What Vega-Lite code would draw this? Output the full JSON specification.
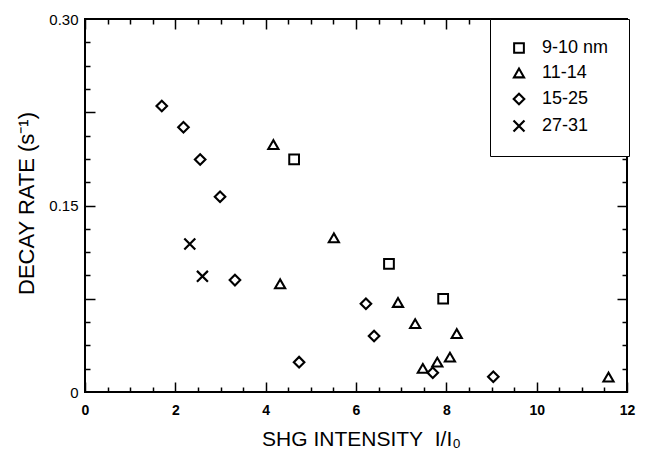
{
  "$schema": "https://vega.github.io/schema/vega-lite/v6.json",
  "width": 542,
  "height": 373,
  "autosize": "none",
  "padding": {"left": 85, "top": 19, "right": 22, "bottom": 57},
  "background": "white",
  "config": {
    "view": {"stroke": "black", "strokeWidth": 2},
    "axis": {
      "domain": false,
      "grid": false,
      "labelFont": "Liberation Sans",
      "labelFontSize": 14,
      "labelColor": "black",
      "titleFont": "Liberation Sans",
      "titleColor": "black",
      "titleFontWeight": "normal",
      "tickColor": "black",
      "tickWidth": 1.5,
      "labelOverlap": false,
      "labelFlush": false
    },
    "legend": {
      "labelFont": "Liberation Sans",
      "labelColor": "black"
    }
  },
  "data": {
    "values": [
      {"x": 4.63, "y": 0.187, "size": "9-10 nm"},
      {"x": 6.73, "y": 0.103, "size": "9-10 nm"},
      {"x": 7.93, "y": 0.075, "size": "9-10 nm"},
      {"x": 4.17, "y": 0.199, "size": "11-14"},
      {"x": 5.51, "y": 0.124, "size": "11-14"},
      {"x": 4.32, "y": 0.087, "size": "11-14"},
      {"x": 6.93, "y": 0.072, "size": "11-14"},
      {"x": 7.31, "y": 0.055, "size": "11-14"},
      {"x": 8.23, "y": 0.047, "size": "11-14"},
      {"x": 8.08, "y": 0.028, "size": "11-14"},
      {"x": 7.80, "y": 0.024, "size": "11-14"},
      {"x": 7.48, "y": 0.019, "size": "11-14"},
      {"x": 11.59, "y": 0.012, "size": "11-14"},
      {"x": 1.70, "y": 0.230, "size": "15-25"},
      {"x": 2.18, "y": 0.213, "size": "15-25"},
      {"x": 2.55, "y": 0.187, "size": "15-25"},
      {"x": 2.99, "y": 0.157, "size": "15-25"},
      {"x": 3.32, "y": 0.090, "size": "15-25"},
      {"x": 4.74, "y": 0.024, "size": "15-25"},
      {"x": 6.22, "y": 0.071, "size": "15-25"},
      {"x": 6.40, "y": 0.045, "size": "15-25"},
      {"x": 7.70, "y": 0.0155, "size": "15-25"},
      {"x": 9.04, "y": 0.0123, "size": "15-25"},
      {"x": 2.32, "y": 0.119, "size": "27-31"},
      {"x": 2.60, "y": 0.093, "size": "27-31"}
    ]
  },
  "layer": [
    {
      "mark": {"type": "point", "filled": false, "color": "black", "opacity": 1},
      "encoding": {
        "x": {
          "field": "x", "type": "quantitative",
          "scale": {"domain": [0, 12], "nice": false, "zero": false},
          "axis": {
            "orient": "bottom", "values": [0, 2, 4, 6, 8, 10, 12], "ticks": false,
            "labelPadding": 11, "labelFontSize": 14, "labelFontWeight": "bold",
            "title": "SHG INTENSITY\u00a0 I/I\u2080", "titleFontSize": 21,
            "titleX": 276, "titleY": 53, "titleBaseline": "alphabetic", "titleAlign": "center"
          }
        },
        "y": {
          "field": "y", "type": "quantitative",
          "scale": {"domain": [0, 0.3], "nice": false, "zero": false},
          "axis": {
            "orient": "left", "values": [0, 0.15, 0.3], "ticks": false,
            "labelPadding": 7, "labelFontSize": 15,
            "labelExpr": "datum.value == 0 ? '0' : format(datum.value, '.2f')",
            "title": "DECAY RATE (s\u207b\u00b9)", "titleFontSize": 22,
            "titleX": -52, "titleY": 184, "titleBaseline": "alphabetic", "titleAlign": "center", "titleAngle": -90
          }
        },
        "shape": {
          "field": "size", "type": "nominal",
          "scale": {
            "domain": ["9-10 nm", "11-14", "15-25", "27-31"],
            "range": ["square", "triangle-up", "diamond", "M-1,-1L1,1M-1,1L1,-1"]
          },
          "legend": {
            "title": null, "orient": "none", "legendX": 405, "legendY": 0,
            "fillColor": "white", "strokeColor": "black",
            "padding": 20, "labelFontSize": 18, "labelOffset": 14, "rowPadding": 7,
            "symbolStrokeColor": "black", "symbolFillColor": "white",
            "encode": {"legend": {"update": {"strokeWidth": {"value": 2}}}}
          }
        },
        "size": {
          "field": "size", "type": "nominal",
          "scale": {
            "domain": ["9-10 nm", "11-14", "15-25", "27-31"],
            "range": [95, 120, 100, 70]
          },
          "legend": {
            "title": null, "orient": "none", "legendX": 405, "legendY": 0,
            "fillColor": "white", "strokeColor": "black",
            "padding": 20, "labelFontSize": 18, "labelOffset": 14, "rowPadding": 7,
            "symbolStrokeColor": "black", "symbolFillColor": "white",
            "encode": {"legend": {"update": {"strokeWidth": {"value": 2}}}}
          }
        },
        "strokeWidth": {
          "field": "size", "type": "nominal",
          "scale": {
            "domain": ["9-10 nm", "11-14", "15-25", "27-31"],
            "range": [2, 2.2, 2.2, 3]
          },
          "legend": {
            "title": null, "orient": "none", "legendX": 405, "legendY": 0,
            "fillColor": "white", "strokeColor": "black",
            "padding": 20, "labelFontSize": 18, "labelOffset": 14, "rowPadding": 7,
            "symbolStrokeColor": "black", "symbolFillColor": "white",
            "encode": {"legend": {"update": {"strokeWidth": {"value": 2}}}}
          }
        }
      }
    },
    {
      "mark": {"type": "point", "opacity": 0},
      "encoding": {
        "x": {"field": "x", "type": "quantitative",
          "axis": {"orient": "bottom", "values": [0, 2, 4, 6, 8, 10, 12], "labels": false, "title": null, "tickSize": -10}},
        "y": {"field": "y", "type": "quantitative",
          "axis": {"orient": "left", "values": [0.075, 0.15, 0.225], "labels": false, "title": null, "tickSize": -10}}
      }
    },
    {
      "mark": {"type": "point", "opacity": 0},
      "encoding": {
        "x": {"field": "x", "type": "quantitative",
          "axis": {"orient": "bottom", "values": [0.5, 1, 1.5, 2.5, 3, 3.5, 4.5, 5, 5.5, 6.5, 7, 7.5, 8.5, 9, 9.5, 10.5, 11, 11.5], "labels": false, "title": null, "tickSize": -5}},
        "y": {"field": "y", "type": "quantitative",
          "axis": {"orient": "left", "values": [0.01875, 0.0375, 0.05625, 0.09375, 0.1125, 0.13125, 0.16875, 0.1875, 0.20625, 0.24375, 0.2625, 0.28125], "labels": false, "title": null, "tickSize": -5}}
      }
    },
    {
      "mark": {"type": "point", "opacity": 0},
      "encoding": {
        "x": {"field": "x", "type": "quantitative",
          "axis": {"orient": "top", "values": [0, 2, 4, 6, 8, 10, 12], "labels": false, "title": null, "tickSize": -10}},
        "y": {"field": "y", "type": "quantitative",
          "axis": {"orient": "right", "values": [0.075, 0.15, 0.225], "labels": false, "title": null, "tickSize": -10}}
      }
    },
    {
      "mark": {"type": "point", "opacity": 0},
      "encoding": {
        "x": {"field": "x", "type": "quantitative",
          "axis": {"orient": "top", "values": [0.5, 1, 1.5, 2.5, 3, 3.5, 4.5, 5, 5.5, 6.5, 7, 7.5, 8.5, 9, 9.5, 10.5, 11, 11.5], "labels": false, "title": null, "tickSize": -5}},
        "y": {"field": "y", "type": "quantitative",
          "axis": {"orient": "right", "values": [0.01875, 0.0375, 0.05625, 0.09375, 0.1125, 0.13125, 0.16875, 0.1875, 0.20625, 0.24375, 0.2625, 0.28125], "labels": false, "title": null, "tickSize": -5}}
      }
    }
  ],
  "resolve": {"axis": {"x": "independent", "y": "independent"}}
}
